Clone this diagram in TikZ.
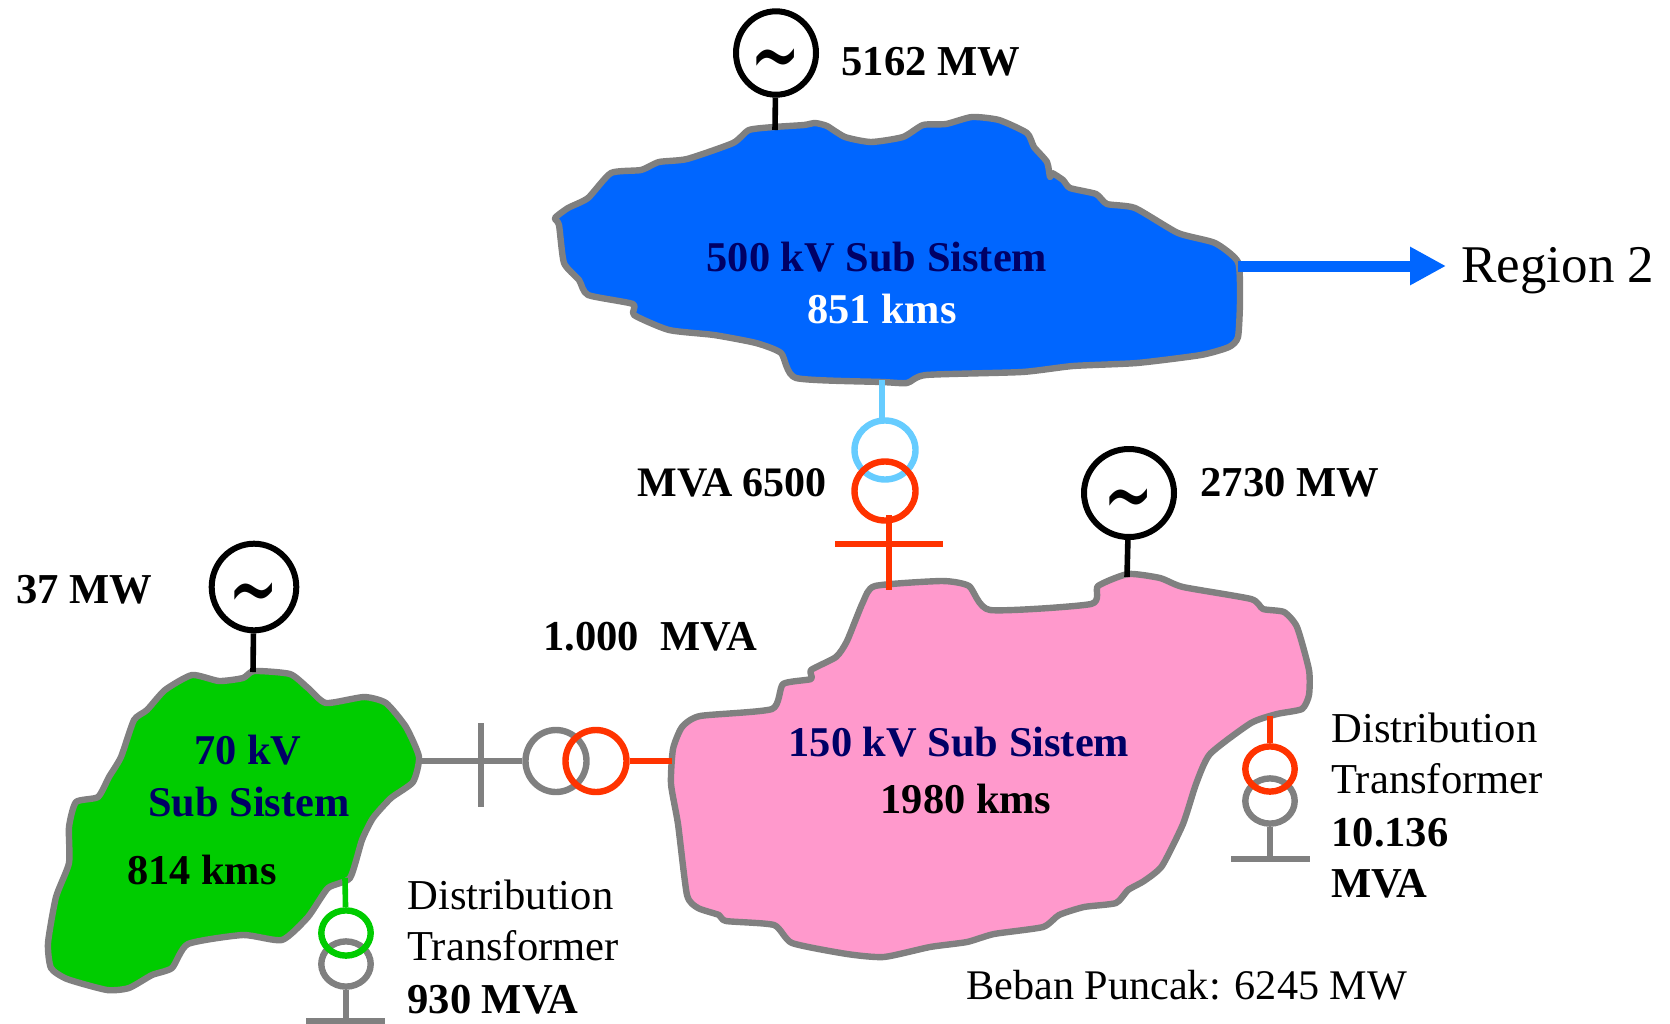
\documentclass[tikz,border=0pt]{standalone}
\usepackage{fontspec}
\setmainfont{Liberation Serif}
\newfontfamily\tildefont{DejaVu Sans}
\usetikzlibrary{arrows.meta,shapes.geometric}
\definecolor{GridBlue}{HTML}{0066FF}
\definecolor{GridPink}{HTML}{FF99CC}
\definecolor{GridGreen}{HTML}{00CC00}
\definecolor{GridGray}{HTML}{808080}
\definecolor{GridRed}{HTML}{FF3300}
\definecolor{GridSky}{HTML}{66CCFF}
\definecolor{GridNavy}{HTML}{000066}
\newcommand{\acwave}{\raisebox{-18pt}[0pt][0pt]{\scalebox{1}[1.7]{∼}}}
\tikzset{
  region/.style={draw=GridGray,line width=3.2pt,line join=round},
  gensym/.style={draw=black,line width=3pt,ellipse,fill=white,inner sep=0pt,minimum width=40pt,minimum height=41.7pt,font=\fontsize{30}{30}\selectfont\tildefont},
  coil/.style={ellipse,line width=3.2pt,inner sep=0pt,minimum width=30.5pt,minimum height=29.5pt},
  smallcoil/.style={ellipse,line width=3.2pt,inner sep=0pt,minimum width=24.7pt,minimum height=22.6pt},
  wire/.style={line width=2.8pt},
  rating/.style={anchor=west,inner sep=0pt,font=\fontsize{21.3}{24}\selectfont\bfseries},
  plain/.style={anchor=west,inner sep=0pt,font=\fontsize{21.3}{24}\selectfont},
  subname/.style={inner sep=0pt,text=GridNavy,font=\fontsize{21.2}{24}\selectfont\bfseries},
  length/.style={inner sep=0pt,font=\fontsize{21.2}{24}\selectfont\bfseries}
}
\begin{document}
\begin{tikzpicture}[x=.5pt,y=-.5pt]
  \useasboundingbox (0,0) rectangle (1670,1023);
  % sub systems
  \draw[region,fill=GridBlue] plot[smooth cycle,tension=.35] coordinates {
    (555,218) (568,208) (588,198) (611,173) (641,170) (659,162) (687,159) (733,143) (749,130) (774,127)
    (804,125) (815,123) (827,126) (845,137) (871,142) (903,137) (923,125) (946,124) (972,117) (999,120)
    (1027,133) (1034,147) (1047,162) (1050,177) (1052,173) (1063,180) (1070,188) (1096,194) (1107,204) (1135,208)
    (1178,233) (1215,243) (1238,262) (1240,300) (1238,337) (1229,347) (1201,355) (1137,363) (1073,366) (1022,372)
    (926,375) (907,383) (882,382) (796,378) (781,353) (756,343) (714,335) (669,330) (634,315) (633,304)
    (588,295) (579,280) (564,263) (559,225)};
  \draw[region,fill=GridPink] plot[smooth cycle,tension=.35] coordinates {
    (875,586) (942,581) (969,586) (990,610) (1091,604) (1098,586) (1128,574) (1160,578) (1183,587) (1251,599)
    (1263,609) (1284,612) (1297,627) (1309,670) (1309,695) (1302,709) (1277,714) (1251,723) (1210,754) (1196,784)
    (1183,824) (1162,866) (1144,881) (1128,890) (1116,903) (1084,907) (1059,915) (1043,927) (994,934) (967,942)
    (930,947) (884,957) (847,954) (792,943) (774,925) (726,921) (719,915) (698,908) (687,895) (678,824)
    (671,784) (673,749) (682,727) (700,716) (772,709) (783,684) (811,679) (811,670) (836,657) (847,641) (863,602)};
  \draw[region,fill=GridGreen] plot[smooth cycle,tension=.35] coordinates {
    (192,675) (219,681) (243,678) (254,671) (290,674) (308,688) (326,703) (364,697) (386,703) (406,727)
    (419,757) (413,782) (391,798) (373,818) (362,840) (350,878) (328,888) (308,917) (282,940) (243,935)
    (188,944) (172,968) (152,975) (129,988) (107,990) (67,979) (51,968) (48,943) (56,897) (69,863)
    (69,827) (76,802) (98,797) (109,777) (121,757) (134,720) (147,710) (165,690)};
  % ports on the outlines
  \coordinate (blueTop) at (775,130);
  \coordinate (blueRight) at (1238,266);
  \coordinate (blueBottom) at (882,380);
  \coordinate (pinkTop) at (889,590);
  \coordinate (pinkPeak) at (1127,577);
  \coordinate (pinkLeft) at (672,761);
  \coordinate (pinkRight) at (1270,716);
  \coordinate (greenTop) at (253,672);
  \coordinate (greenRight) at (419,761);
  \coordinate (greenBottom) at (345,878);
  \coordinate (regionTip) at (1446,266);
  % generators
  \node[gensym] (genTop) at (776,53) {\acwave};
  \node[gensym,minimum width=45pt,minimum height=44pt] (genPink) at (1129,493) {\acwave};
  \node[gensym,minimum width=42.3pt,minimum height=43.3pt] (genGreen) at (254,587) {\acwave};
  \draw[wire] (genTop) -- (blueTop);
  \draw[wire] (genPink) -- (pinkPeak);
  \draw[wire] (genGreen) -- (greenTop);
  % export to region 2
  \draw[draw=GridBlue,line width=5.5pt,-{Triangle[length=18pt,width=18pt,fill=GridBlue]}] (blueRight) -- (regionTip);
  \node[anchor=west,inner sep=0pt,font=\fontsize{26.5}{30}\selectfont] (region2) at (1461,271) {Region 2};
  % 500/150 transformer
  \node[coil,draw=GridSky] (tieHigh) at (885,450) {};
  \node[coil,draw=GridRed] (tieLow) at (885,491) {};
  \coordinate (tieHighTop) at (882,420);
  \coordinate (tieBusL) at (835,544);
  \coordinate (tieBusR) at (943,544);
  \coordinate (tieStub) at (889,515);
  \draw[wire,draw=GridSky] (blueBottom) -- (tieHighTop);
  \draw[wire,draw=GridRed] (tieStub) -- (pinkTop);
  \draw[wire,draw=GridRed] (tieBusL) -- (tieBusR);
  % 150/70 transformer
  \node[coil,draw=GridGray,minimum height=31pt] (linkLow) at (556,761) {};
  \node[coil,draw=GridRed,minimum height=31pt] (linkHigh) at (596,761) {};
  \coordinate (linkBusT) at (481,723);
  \coordinate (linkBusB) at (481,807);
  \draw[wire,draw=GridGray] (greenRight) -- (linkLow);
  \draw[wire,draw=GridGray] (linkBusT) -- (linkBusB);
  \draw[wire,draw=GridRed] (linkHigh) -- (pinkLeft);
  % distribution transformers
  \node[smallcoil,draw=GridGray] (distGreenLow) at (346,964) {};
  \node[smallcoil,draw=GridGreen] (distGreenHigh) at (346,933) {};
  \coordinate (distGreenBusL) at (306,1021);
  \coordinate (distGreenBusR) at (385,1021);
  \coordinate (distGreenFoot) at (346,1021);
  \draw[wire,draw=GridGreen] (greenBottom) -- (distGreenHigh);
  \draw[wire,draw=GridGray] (distGreenLow) -- (distGreenFoot);
  \draw[wire,draw=GridGray] (distGreenBusL) -- (distGreenBusR);
  \node[smallcoil,draw=GridGray] (distPinkLow) at (1270,801) {};
  \node[smallcoil,draw=GridRed] (distPinkHigh) at (1270,769) {};
  \coordinate (distPinkBusL) at (1231,859);
  \coordinate (distPinkBusR) at (1310,859);
  \coordinate (distPinkFoot) at (1270,859);
  \draw[wire,draw=GridRed] (pinkRight) -- (distPinkHigh);
  \draw[wire,draw=GridGray] (distPinkLow) -- (distPinkFoot);
  \draw[wire,draw=GridGray] (distPinkBusL) -- (distPinkBusR);
  % labels
  \node[subname] (nameBlue) at (877,257) {500 kV Sub Sistem};
  \node[length,text=white] (kmBlue) at (882,309) {851 kms};
  \node[subname] (namePink) at (959,742) {150 kV Sub Sistem};
  \node[length] (kmPink) at (966,799) {1980 kms};
  \node[subname] (nameGreenA) at (248,750) {70 kV};
  \node[subname] (nameGreenB) at (249,802) {Sub Sistem};
  \node[length] (kmGreen) at (202,870) {814 kms};
  \node[rating] (mwTop) at (841,62) {5162 MW};
  \node[rating] (mwPink) at (1200,483) {2730 MW};
  \node[rating] (mwGreen) at (16,590) {37 MW};
  \node[rating,font=\fontsize{21}{24}\selectfont\bfseries] (mvaTie) at (637,483) {MVA 6500};
  \node[rating] (mvaLink) at (543,637) {1.000\ \ MVA};
  \node[plain] (distA) at (1331,728) {Distribution};
  \node[plain] (distB) at (1331,779) {Transformer};
  \node[rating] (distC) at (1331,833) {10.136};
  \node[rating] (distD) at (1331,884) {MVA};
  \node[plain] (distE) at (407,895) {Distribution};
  \node[plain] (distF) at (407,946) {Transformer};
  \node[rating] (distG) at (407,1000) {930 MVA};
  \node[plain,font=\fontsize{21.1}{24}\selectfont] (peak) at (966,985) {Beban Puncak: 6245 MW};
\end{tikzpicture}
\end{document}
